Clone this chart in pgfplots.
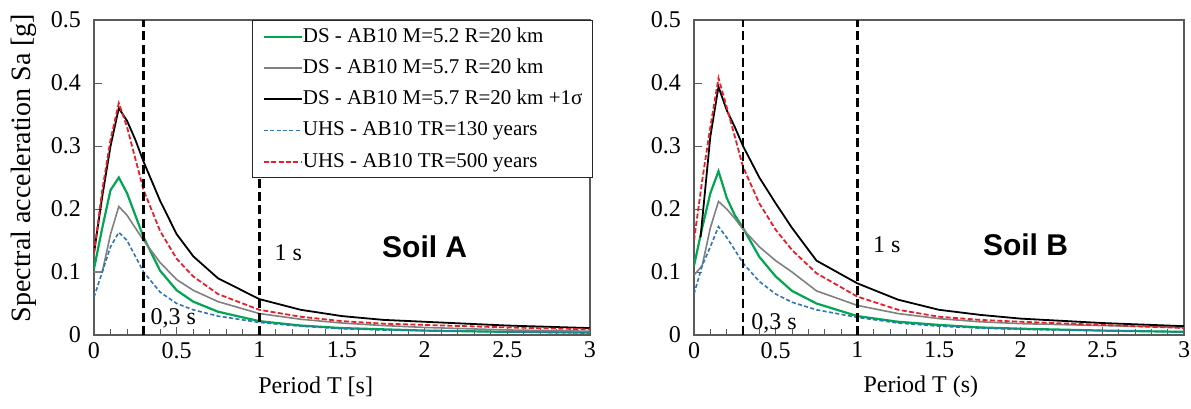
\documentclass[border=0pt]{standalone}
\usepackage{fontspec}
\setmainfont{Liberation Serif}
\setsansfont{Liberation Sans}
\usepackage{pgfplots}
\usepackage{pgfplotstable}
\pgfplotsset{compat=1.18}

\definecolor{dsgreen}{RGB}{0,166,81}
\definecolor{dsgray}{RGB}{128,128,128}
\definecolor{uhsblue}{RGB}{46,117,182}
\definecolor{uhsred}{RGB}{232,30,40}
\definecolor{framegray}{RGB}{90,90,90}

% Response spectra, soil A
\pgfplotstableread{
T     green  gray   black  blue   red
0     0.105  0.100  0.130  0.060  0.130
0.05  0.170  0.100  0.220  0.100  0.230
0.10  0.230  0.160  0.300  0.140  0.310
0.15  0.250  0.204  0.360  0.163  0.368
0.20  0.225  0.190  0.340  0.150  0.330
0.25  0.190  0.170  0.310  0.125  0.280
0.30  0.155  0.150  0.275  0.100  0.230
0.40  0.102  0.115  0.213  0.068  0.165
0.50  0.071  0.088  0.160  0.050  0.121
0.60  0.053  0.071  0.125  0.040  0.093
0.75  0.037  0.053  0.090  0.030  0.065
1.00  0.022  0.034  0.057  0.020  0.040
1.25  0.015  0.025  0.040  0.014  0.029
1.50  0.011  0.019  0.030  0.010  0.022
1.75  0.009  0.015  0.024  0.008  0.018
2.00  0.007  0.012  0.021  0.007  0.016
2.50  0.005  0.008  0.015  0.005  0.012
3.00  0.004  0.006  0.011  0.003  0.009
}\soilA

% Response spectra, soil B
\pgfplotstableread{
T     green  gray   blue   red
0     0.110  0.095  0.065  0.150
0.05  0.170  0.110  0.110  0.245
0.10  0.225  0.170  0.140  0.330
0.15  0.260  0.212  0.172  0.408
0.20  0.218  0.200  0.155  0.362
0.25  0.190  0.185  0.135  0.315
0.30  0.170  0.168  0.114  0.267
0.40  0.124  0.140  0.085  0.209
0.50  0.093  0.118  0.065  0.167
0.60  0.070  0.100  0.052  0.135
0.75  0.050  0.070  0.040  0.098
1.00  0.030  0.047  0.028  0.061
1.25  0.021  0.034  0.019  0.040
1.50  0.016  0.026  0.014  0.029
1.75  0.012  0.021  0.011  0.024
2.00  0.010  0.018  0.009  0.021
2.50  0.007  0.015  0.007  0.016
3.00  0.005  0.012  0.005  0.011
}\soilB

\pgfplotstableread{
T     black
0.04  0.155
0.10  0.315
0.15  0.394
0.20  0.357
0.25  0.330
0.30  0.300
0.40  0.250
0.50  0.209
0.60  0.170
0.75  0.118
1.00  0.082
1.25  0.056
1.50  0.040
1.75  0.032
2.00  0.026
2.50  0.019
3.00  0.014
}\soilBblack

\pgfplotsset{
  panel/.style={
    scale only axis, height=157.5pt, anchor=south west,
    xmin=0, xmax=3, ymin=0, ymax=0.5,
    xtick={0,0.5,1,1.5,2,2.5,3}, minor x tick num=4,
    ytick={0,0.1,0.2,0.3,0.4,0.5},
    tick align=inside, tick pos=left,
    major tick length=4pt, minor tick length=3pt,
    axis line style={draw=framegray, line width=0.6pt},
    every tick/.style={framegray, line width=0.5pt},
    tick label style={font=\fontsize{12}{14}\selectfont},
    yticklabel style={xshift=-3pt},
    /pgf/number format/assume math mode=true,
    label style={font=\fontsize{12}{14}\selectfont},
  },
  dsg/.style={dsgreen, line width=1.1pt},
  dsk/.style={dsgray, line width=0.8pt},
  dsb/.style={black, line width=0.9pt},
  uhsb/.style={uhsblue, line width=0.8pt, dash pattern=on 2pt off 1.2pt},
  uhsr/.style={uhsred, line width=0.9pt, dash pattern=on 2.5pt off 1.2pt},
  refline/.style={black, line width=1.2pt, dash pattern=on 4.5pt off 2.2pt, forget plot},
}

\begin{document}
\begin{tikzpicture}
\path[use as bounding box] (0,0) rectangle (595.5pt,204pt);

% Soil A
\begin{axis}[panel, at={(47pt,36.5pt)}, width=248pt,
  ylabel={Spectral acceleration Sa [g]},
  xlabel={Period T [s]},
  y label style={at={(axis description cs:-0.142,0.53)}, anchor=center,
    font=\fontsize{14}{16}\selectfont},
  x label style={at={(axis description cs:0.447,0)}, anchor=center, yshift=-26pt},
  legend style={at={(axis cs:0.956,0.5)}, anchor=north west,
    draw=black!85, line width=0.6pt, fill=white,
    inner xsep=5pt, inner ysep=2.8pt, row sep=5pt,
    font=\fontsize{10.5}{13}\selectfont,
    nodes={inner sep=0pt, text height=8pt, text depth=2.6pt},
    /tikz/every odd column/.append style={column sep=0pt}},
  legend cell align=left,
  legend image code/.code={\draw[#1] (0pt,0pt) -- (19pt,0pt);},
]
\addplot[dsg]  table[x=T, y=green] {\soilA};
\addlegendentry{DS - AB10 M=5.2 R=20 km}
\addplot[dsk]  table[x=T, y=gray]  {\soilA};
\addlegendentry{DS - AB10 M=5.7 R=20 km}
\addplot[dsb]  table[x=T, y=black] {\soilA};
\addlegendentry{DS - AB10 M=5.7 R=20 km +1σ}
\addplot[uhsb] table[x=T, y=blue]  {\soilA};
\addlegendentry{UHS - AB10 TR=130 years}
\addplot[uhsr] table[x=T, y=red]   {\soilA};
\addlegendentry{UHS - AB10 TR=500 years}
\addplot[refline] coordinates {(0.3,0) (0.3,0.5)};
\addplot[refline] coordinates {(1,0) (1,0.27)};
\node[font=\fontsize{12}{14}\selectfont] at (axis cs:0.48,0.027) {0,3 s};
\node[font=\fontsize{12}{14}\selectfont] at (axis cs:1.175,0.13) {1 s};
\node[font=\sffamily\bfseries\fontsize{15}{17}\selectfont] at (axis cs:2.0,0.14) {Soil A};
\end{axis}

% Soil B
\begin{axis}[panel, at={(347pt,36.5pt)}, width=245pt,
  xlabel={Period T (s)},
  x label style={at={(axis description cs:0.463,0)}, anchor=center, yshift=-26pt},
]
\addplot[dsg]  table[x=T, y=green] {\soilB};
\addplot[dsk]  table[x=T, y=gray]  {\soilB};
\addplot[dsb]  table[x=T, y=black] {\soilBblack};
\addplot[uhsb] table[x=T, y=blue]  {\soilB};
\addplot[uhsr] table[x=T, y=red]   {\soilB};
\addplot[refline] coordinates {(0.3,0) (0.3,0.5)};
\addplot[refline] coordinates {(1,0) (1,0.5)};
\node[font=\fontsize{12}{14}\selectfont] at (axis cs:0.49,0.019) {0,3 s};
\node[font=\fontsize{12}{14}\selectfont] at (axis cs:1.18,0.143) {1 s};
\node[font=\sffamily\bfseries\fontsize{15}{17}\selectfont] at (axis cs:2.03,0.143) {Soil B};
\end{axis}
\end{tikzpicture}
\end{document}
